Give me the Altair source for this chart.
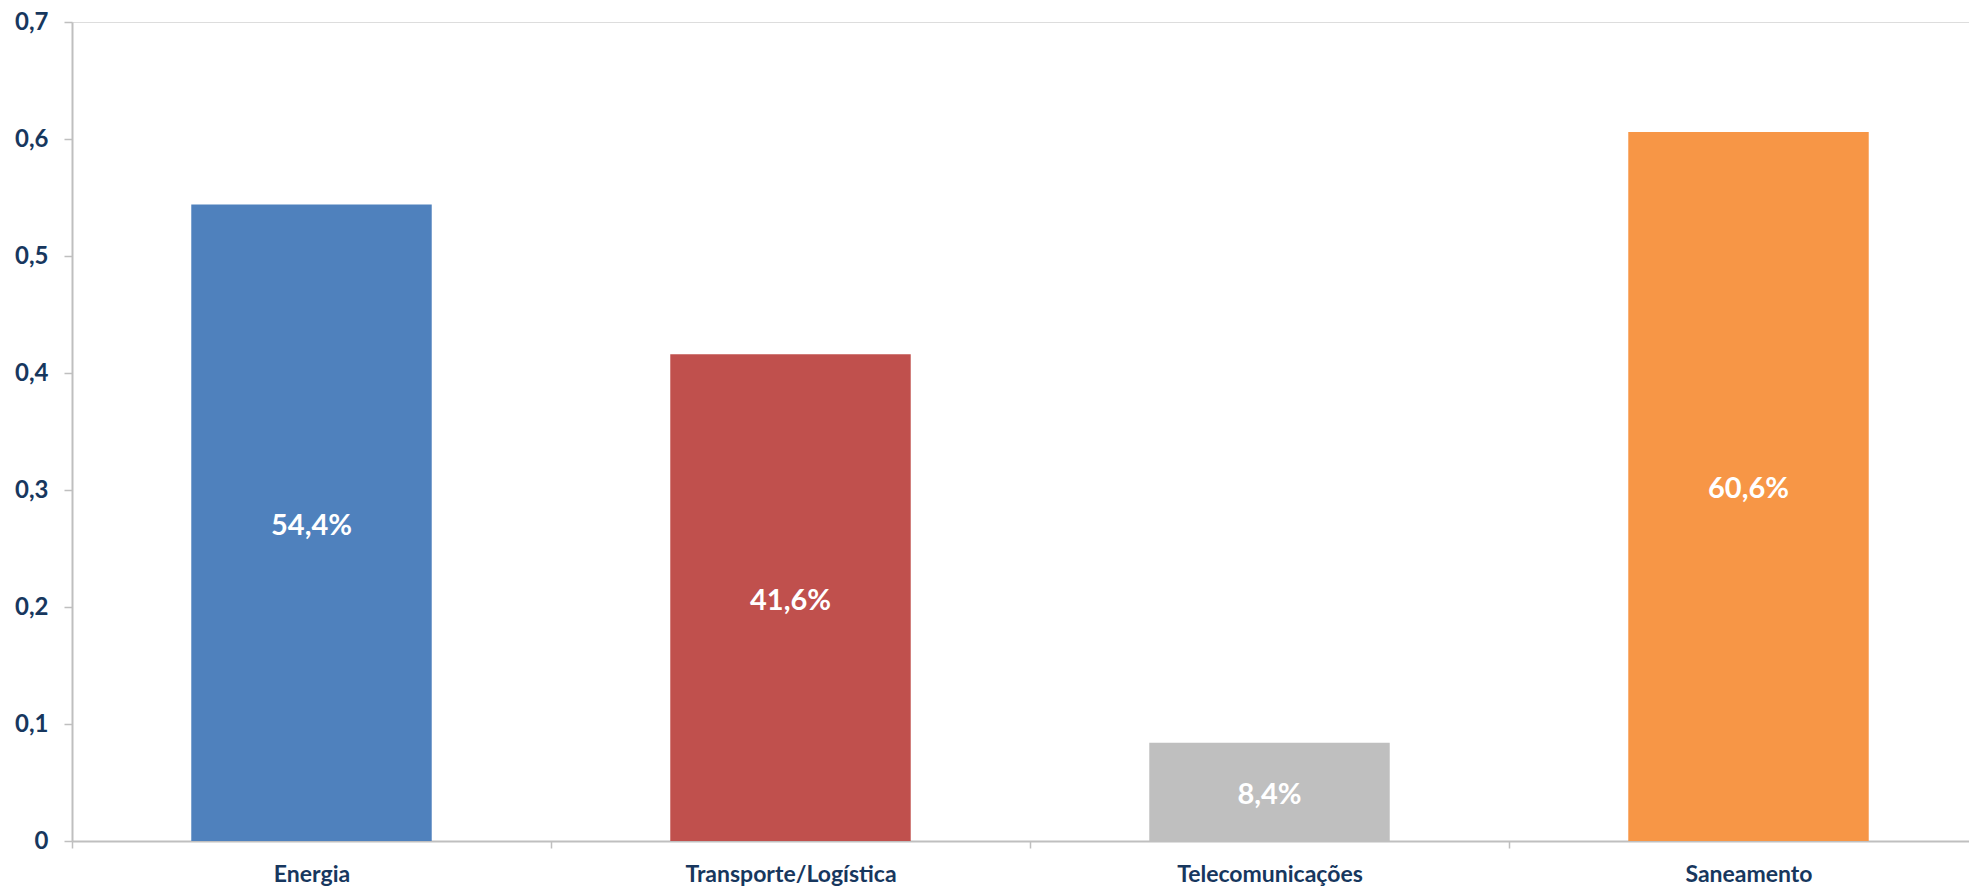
import altair as alt
import pandas as pd

categories = ["Energia", "Transporte/Logística", "Telecomunicações", "Saneamento"]
values = [0.544, 0.416, 0.084, 0.606]
value_labels = ["54,4%", "41,6%", "8,4%", "60,6%"]
colors = ["#4F81BD", "#C0504D", "#BFBFBF", "#F79646"]
y_ticks = [0, 0.1, 0.2, 0.3, 0.4, 0.5, 0.6, 0.7]

df = pd.DataFrame({"cat": categories, "val": values, "lab": value_labels})

FONT = "Lato"
LABEL_COLOR = "#17375E"
AXIS_COLOR = "#BFBFBF"

x_enc = alt.X(
    "cat:N",
    sort=categories,
    title=None,
    scale=alt.Scale(range=[0, 1916], paddingInner=0, paddingOuter=0),
    axis=alt.Axis(
        labelAngle=0,
        labelFont=FONT,
        labelFontSize=23,
        labelFontWeight="bold",
        labelColor=LABEL_COLOR,
        labelBaseline="alphabetic",
        labelPadding=33,
        labelLimit=0,
        tickBand="extent",
        tickSize=7,
        tickColor=AXIS_COLOR,
        tickWidth=1.5,
        domainColor=AXIS_COLOR,
        domainWidth=2,
        grid=False,
    ),
)

y_enc = alt.Y(
    "val:Q",
    title=None,
    scale=alt.Scale(domain=[0, 0.7], nice=False),
    axis=alt.Axis(
        values=y_ticks,
        labelExpr="datum.value == 0 ? '0' : replace(format(datum.value, '.1f'), '.', ',')",
        labelFont=FONT,
        labelFontSize=24,
        labelFontWeight="bold",
        labelColor=LABEL_COLOR,
        labelPadding=16,
        tickSize=8,
        tickColor=AXIS_COLOR,
        tickWidth=1.5,
        domainColor=AXIS_COLOR,
        domainWidth=2,
        grid=False,
    ),
)

bars = alt.Chart(df).mark_bar(width=alt.RelativeBandSize(0.502)).encode(
    x=x_enc,
    y=y_enc,
    color=alt.Color("cat:N", scale=alt.Scale(domain=categories, range=colors), legend=None),
)

texts = alt.Chart(df).transform_calculate(mid="datum.val / 2").mark_text(
    font=FONT, fontSize=29, fontWeight="bold", color="white", baseline="middle", align="center", dy=3
).encode(
    x=alt.X("cat:N", sort=categories),
    y=alt.Y("mid:Q"),
    text="lab:N",
)

chart = (
    alt.layer(bars, texts)
    .properties(
        width=1897,
        height=819,
        padding={"left": 64, "top": 14, "right": 0, "bottom": 46},
        autosize=alt.AutoSizeParams(type="none"),
    )
    .configure_view(stroke=None)
    .configure(background="white")
)

chart.save("out.html", embed_options={"renderer": "svg", "actions": False})
